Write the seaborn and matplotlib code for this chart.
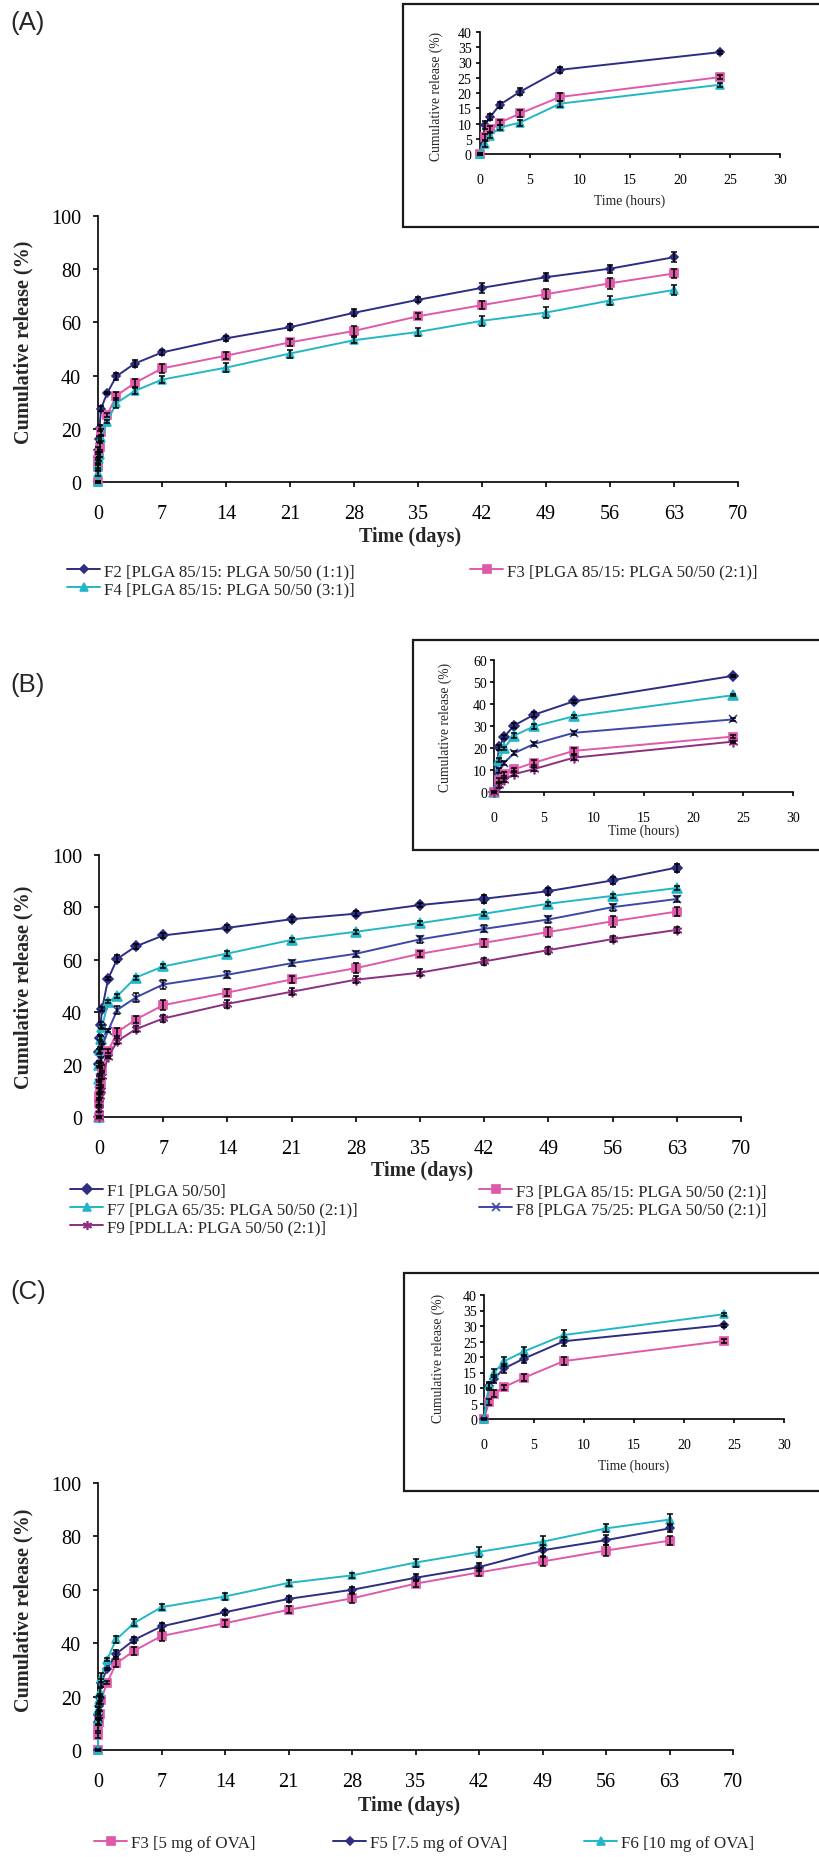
import numpy as np
import pandas as pd
import matplotlib
matplotlib.use("Agg")
import matplotlib.pyplot as plt
import seaborn as sns
from matplotlib.lines import Line2D
from matplotlib.patches import Rectangle

# sampling times
hours = [0, 0.5, 1, 2, 4, 8, 24]
days_after = [2, 4, 7, 14, 21, 28, 35, 42, 49, 56, 63]

# ---- panel A ----
f2_h = [0, 9.5, 12.1, 16.2, 20.4, 27.6, 33.4]
f2_h_err = [0, 1.2, 1.0, 1.0, 1.2, 0.9, 0.5]
f2_d = [39.7, 44.5, 48.7, 54.0, 58.2, 63.6, 68.5, 73.0, 77.0, 80.2, 84.5]
f2_d_err = [1.3, 1.2, 1.0, 1.0, 1.1, 1.3, 0.9, 1.8, 1.5, 1.5, 1.8]

f3_h = [0, 5.5, 8.2, 10.3, 13.3, 18.7, 25.2]
f3_h_err = [0.3, 1.0, 1.0, 0.8, 1.2, 1.3, 0.6]
f3_d = [32.4, 37.2, 42.7, 47.5, 52.5, 56.8, 62.3, 66.5, 70.6, 74.7, 78.4]
f3_d_err = [1.5, 1.5, 1.8, 1.3, 1.3, 1.8, 1.2, 1.5, 1.8, 2.0, 1.7]

f4_h = [0, 3.3, 6.0, 8.7, 10.3, 16.5, 22.7]
f4_h_err = [0.3, 0.9, 0.8, 0.7, 1.0, 1.0, 0.6]
f4_d = [29.6, 34.2, 38.5, 43.0, 48.3, 53.3, 56.4, 60.6, 63.7, 68.2, 72.2]
f4_d_err = [1.8, 1.3, 1.3, 1.8, 1.5, 1.2, 1.6, 1.8, 2.0, 1.7, 2.0]

# ---- panel B ----
f1_h = [0, 20.3, 24.9, 30.2, 35.1, 41.2, 52.8]
f1_h_err = [0, 1.0, 1.0, 1.0, 1.2, 0.7, 0.5]
f1_d = [60.4, 65.1, 69.3, 72.2, 75.5, 77.6, 80.9, 83.3, 86.2, 90.3, 95.2]
f1_d_err = [1.3, 1.0, 1.0, 1.0, 1.0, 1.0, 0.8, 1.5, 1.3, 1.3, 1.5]

f7_h = [0, 14.5, 19.8, 25.6, 29.8, 34.4, 44.0]
f7_h_err = [0, 1.0, 0.8, 1.2, 1.3, 0.8, 0.5]
f7_d = [46.2, 53.2, 57.5, 62.4, 67.6, 70.7, 74.0, 77.6, 81.4, 84.4, 87.4]
f7_d_err = [0.8] * 11

f8_h = [0, 9.8, 13.1, 17.6, 21.8, 26.9, 33.0]
f8_h_err = [0, 1.2, 1.0, 1.0, 1.0, 1.0, 0.5]
f8_d = [40.9, 45.6, 50.6, 54.3, 58.7, 62.3, 67.8, 71.8, 75.4, 80.1, 83.2]
f8_d_err = [1.5, 1.7, 1.6, 1.3, 1.2, 1.2, 1.3, 1.3, 1.2, 1.3, 1.3]

f9_h = [0, 3.0, 5.5, 8.1, 10.4, 15.6, 22.9]
f9_h_err = [0, 1.0, 1.0, 0.8, 1.0, 1.2, 0.5]
f9_d = [29.0, 33.5, 37.6, 43.2, 47.8, 52.4, 55.1, 59.4, 63.7, 67.9, 71.4]
f9_d_err = [1.3, 1.2, 1.3, 1.5, 1.3, 1.3, 1.2, 1.2, 1.3, 1.2, 1.3]

# ---- panel C ----
f6_h = [0, 10.9, 14.9, 18.6, 21.8, 27.1, 33.8]
f6_h_err = [0, 1.0, 1.3, 1.5, 1.5, 1.6, 0.5]
f6_d = [41.4, 47.6, 53.5, 57.5, 62.6, 65.4, 70.2, 74.2, 78.0, 83.0, 86.3]
f6_d_err = [1.2, 1.3, 1.0, 1.2, 1.2, 1.0, 1.5, 2.0, 2.2, 1.5, 2.2]

f5_h = [0, 10.5, 13.0, 16.3, 19.5, 25.1, 30.3]
f5_h_err = [0, 1.2, 1.3, 1.3, 1.3, 1.5, 0.5]
f5_d = [36.0, 41.3, 46.3, 51.6, 56.6, 60.0, 64.5, 68.5, 74.8, 78.6, 83.0]
f5_d_err = [1.3, 1.2, 1.3, 1.0, 1.2, 1.2, 1.3, 1.5, 2.0, 1.8, 1.5]

labels_a = ['F2 [PLGA 85/15: PLGA 50/50 (1:1)]', 'F3 [PLGA 85/15: PLGA 50/50 (2:1)]',
            'F4 [PLGA 85/15: PLGA 50/50 (3:1)]']
labels_b = ['F1 [PLGA 50/50]', 'F3 [PLGA 85/15: PLGA 50/50 (2:1)]',
            'F7 [PLGA 65/35: PLGA 50/50 (2:1)]', 'F8 [PLGA 75/25: PLGA 50/50 (2:1)]',
            'F9 [PDLLA: PLGA 50/50 (2:1)]']
labels_c = ['F3 [5 mg of OVA]', 'F5 [7.5 mg of OVA]', 'F6 [10 mg of OVA]']

NAVY = '#2e2d84'
PINK = '#de5aa9'
CYAN = '#22b6c6'
BLUE = '#3c47a8'
PURPLE = '#8c2f82'

sty = {
    'F1': dict(color=NAVY, marker='D', ms=5.5),
    'F2': dict(color=NAVY, marker='D', ms=4.5),
    'F3': dict(color=PINK, marker='s', ms=6),
    'F4': dict(color=CYAN, marker='^', ms=6),
    'F5': dict(color=NAVY, marker='D', ms=4.5),
    'F6': dict(color=CYAN, marker='^', ms=6),
    'F7': dict(color=CYAN, marker='^', ms=6.5),
    'F8': dict(color=BLUE, marker='x', ms=6),
    'F9': dict(color=PURPLE, marker=(6, 2, 0), ms=7),
}

sns.set_style('ticks')
plt.rcParams['font.family'] = ['Liberation Serif', 'DejaVu Serif']
plt.rcParams['axes.edgecolor'] = 'black'
plt.rcParams['xtick.color'] = 'black'
plt.rcParams['ytick.color'] = 'black'

W, H = 819, 1858
fig = plt.figure(figsize=(W / 100, H / 100), dpi=100)


def px_axes(l, t, r, b, z=1):
    ax = fig.add_axes([l / W, 1 - b / H, (r - l) / W, (b - t) / H])
    ax.set_zorder(z)
    ax.patch.set_alpha(0)
    return ax


def draw(ax, x, y, err, key):
    s = sty[key]
    df = pd.DataFrame({'t': x, 'v': y})
    sns.lineplot(data=df, x='t', y='v', ax=ax, color=s['color'], marker=s['marker'],
                 markersize=s['ms'], markeredgecolor=s['color'], markerfacecolor=s['color'],
                 markeredgewidth=1.2, linewidth=1.4, errorbar=None, clip_on=False, zorder=3)
    ax.errorbar(x, y, yerr=err, fmt='none', ecolor='black', elinewidth=1.1,
                capsize=2.5, capthick=1.1, clip_on=False, zorder=4)


def style(ax, xmax, xstep, ymax, ystep, size, pads, length):
    ax.set_xlim(0, xmax)
    ax.set_ylim(0, ymax)
    ax.set_xticks(np.arange(0, xmax + 0.1, xstep))
    ax.set_yticks(np.arange(0, ymax + 0.1, ystep))
    for s in ['top', 'right']:
        ax.spines[s].set_visible(False)
    for s in ['left', 'bottom']:
        ax.spines[s].set_linewidth(1.2)
        ax.spines[s].set_color('black')
    ax.tick_params(axis='x', direction='out', length=length, width=1.2, labelsize=size, pad=pads[0])
    ax.tick_params(axis='y', direction='out', length=length, width=1.2, labelsize=size, pad=pads[1])


def main_panel(ax, series, ylab_xy, xlab_xy):
    for key, h, he, d, de in series:
        x = list(np.array(hours) / 24) + days_after
        draw(ax, x, h + d, he + de, key)
    style(ax, 70, 7, 100, 20, 14.5, (12, 8.5), 3.6)
    ax.set_ylabel('Cumulative release (%)', fontsize=14.5, fontweight='bold')
    ax.set_xlabel('Time (days)', fontsize=14.5, fontweight='bold')
    ax.yaxis.set_label_coords(*ylab_xy)
    ax.xaxis.set_label_coords(*xlab_xy)


def inset_panel(ax, series, ymax, ylab_xy, xlab_xy, ypad):
    for key, h, he in series:
        draw(ax, hours, h, he, key)
    style(ax, 30, 5, ymax, 5 if ymax == 40 else 10, 10, (10.5, ypad), 3)
    ax.set_ylabel('Cumulative release (%)', fontsize=9.8)
    ax.set_xlabel('Time (hours)', fontsize=9.8)
    ax.yaxis.set_label_coords(*ylab_xy)
    ax.xaxis.set_label_coords(*xlab_xy)


def box(l, t, r, b):
    fig.add_artist(Rectangle((l / W, 1 - b / H), (r - l) / W, (b - t) / H,
                             transform=fig.transFigure, facecolor='white',
                             edgecolor='#1a1a1a', linewidth=1.6, zorder=2))


def handle(key):
    s = sty[key]
    return Line2D([], [], color=s['color'], marker=s['marker'], markersize=s['ms'] - 0.5,
                  markeredgewidth=1.2, linewidth=1.4)


def legend_col(keys, labels, x, y_first):
    fig.legend([handle(k) for k in keys], labels, loc='upper left',
               bbox_to_anchor=(x / W, 1 - (y_first - 9) / H), frameon=False,
               fontsize=12.2, handlelength=1.95, handletextpad=0.25, labelspacing=0.12,
               borderpad=0, borderaxespad=0)


def panel_tag(text, y):
    fig.text(10 / W, 1 - y / H, text, family=['Liberation Sans', 'DejaVu Sans'],
             fontsize=18.5, va='center', ha='left')


# ---------- (A) ----------
axA = px_axes(98, 217, 738, 483)
main_panel(axA, [('F2', f2_h, f2_h_err, f2_d, f2_d_err),
                 ('F3', f3_h, f3_h_err, f3_d, f3_d_err),
                 ('F4', f4_h, f4_h_err, f4_d, f4_d_err)],
           ((33 - 98) / 640, 0.53), (0.488, -0.165))
box(403, 5, 822, 228)
inA = px_axes(480, 33, 780, 155, z=3)
inset_panel(inA, [('F2', f2_h, f2_h_err), ('F3', f3_h, f3_h_err), ('F4', f4_h, f4_h_err)],
            40, (-0.123, 0.484), (0.5, -0.32), 3)
legend_col(['F2', 'F4'], [labels_a[0], labels_a[2]], 67, 573)
legend_col(['F3'], [labels_a[1]], 470, 573)
panel_tag('(A)', 23)

# ---------- (B) ----------
axB = px_axes(99, 856, 741, 1118)
main_panel(axB, [('F1', f1_h, f1_h_err, f1_d, f1_d_err),
                 ('F7', f7_h, f7_h_err, f7_d, f7_d_err),
                 ('F8', f8_h, f8_h_err, f8_d, f8_d_err),
                 ('F3', f3_h, f3_h_err, f3_d, f3_d_err),
                 ('F9', f9_h, f9_h_err, f9_d, f9_d_err)],
           ((33 - 99) / 642, 0.5), (0.503, -0.164))
box(413, 641, 822, 851)
inB = px_axes(494, 661, 793, 793, z=3)
inset_panel(inB, [('F1', f1_h, f1_h_err), ('F7', f7_h, f7_h_err), ('F8', f8_h, f8_h_err),
                  ('F3', f3_h, f3_h_err), ('F9', f9_h, f9_h_err)],
            60, (-0.141, 0.5), (0.5, -0.235), 2)
legend_col(['F1', 'F7', 'F9'], [labels_b[0], labels_b[2], labels_b[4]], 70, 1193)
legend_col(['F3', 'F8'], [labels_b[1], labels_b[3]], 479, 1193)
panel_tag('(B)', 685)

# ---------- (C) ----------
axC = px_axes(98, 1484, 733, 1751)
main_panel(axC, [('F3', f3_h, f3_h_err, f3_d, f3_d_err),
                 ('F5', f5_h, f5_h_err, f5_d, f5_d_err),
                 ('F6', f6_h, f6_h_err, f6_d, f6_d_err)],
           ((33 - 98) / 635, 0.528), (0.49, -0.169))
box(404, 1274, 822, 1492)
inC = px_axes(484, 1296, 784, 1420, z=3)
inset_panel(inC, [('F3', f3_h, f3_h_err), ('F5', f5_h, f5_h_err), ('F6', f6_h, f6_h_err)],
            40, (-0.13, 0.5), (0.5, -0.315), 2)
legend_col(['F3'], [labels_c[0]], 94, 1845)
legend_col(['F5'], [labels_c[1]], 333, 1845)
legend_col(['F6'], [labels_c[2]], 584, 1845)
panel_tag('(C)', 1292)

fig.savefig('out.png', dpi=100)
